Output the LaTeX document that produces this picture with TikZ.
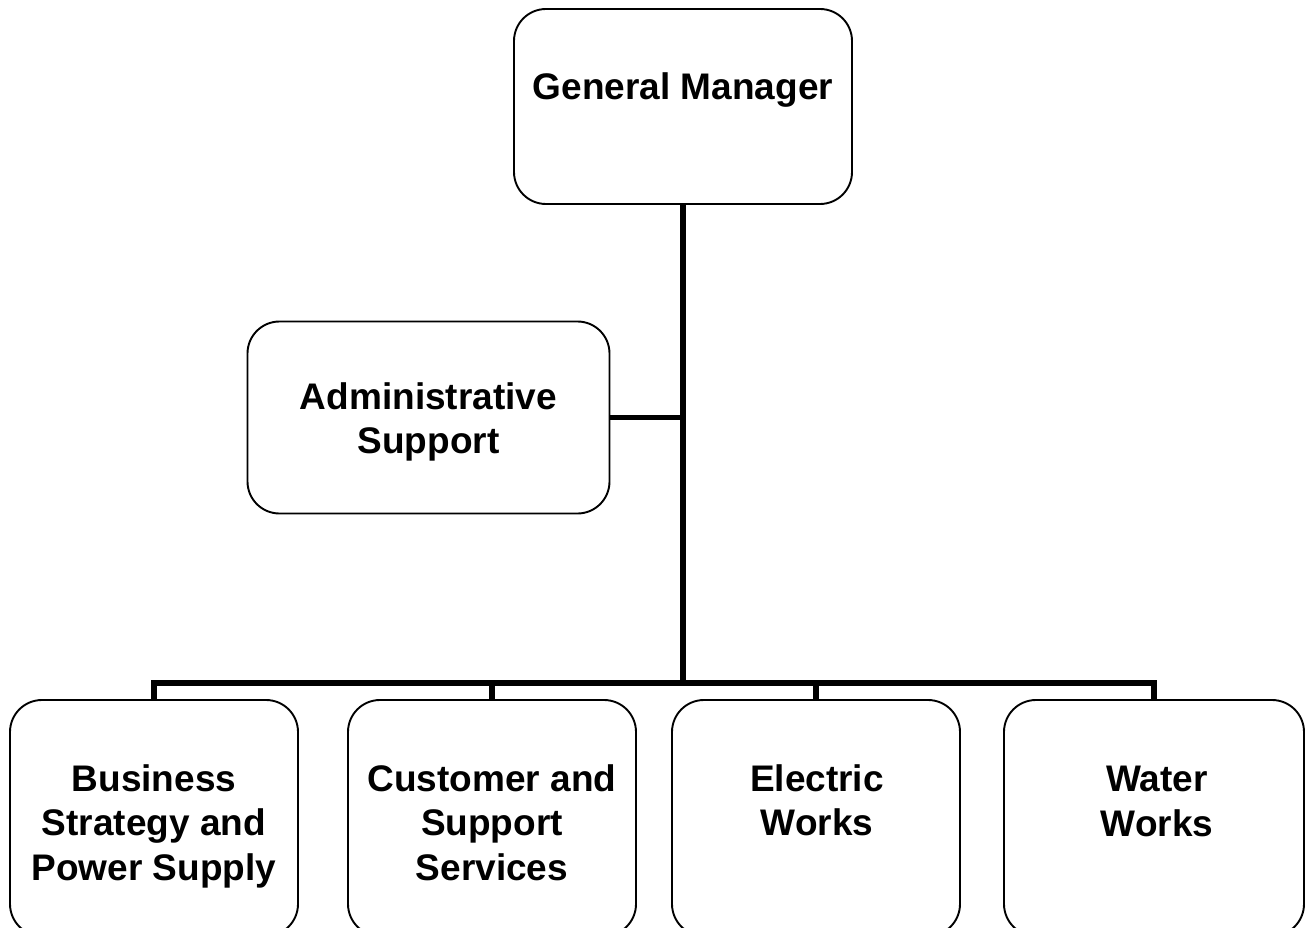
\documentclass[tikz,border=0pt]{standalone}
\usepackage{fontspec}
\setmainfont{Liberation Sans}
\begin{document}
\begin{tikzpicture}[x=1pt,y=-1pt,
  box/.style={draw=black,line width=1.9pt,rounded corners=32pt,fill=white,inner sep=0pt},
  txt/.style={inner sep=0pt,align=center,font=\fontsize{37}{44.5}\selectfont\bfseries,anchor=north,
    execute at begin node={\rule{0pt}{28pt}}},
  conn/.style={line width=5.2pt}]
\useasboundingbox (0,0) rectangle (1310,928);
\clip (0,0) rectangle (1310,928);
\fill[white] (0,0) rectangle (1310,928);
% boxes
\node[box,minimum width=338pt,minimum height=195pt] (gm) at (683,106.5) {};
\node[box,minimum width=362pt,minimum height=192pt] (adm) at (428.5,417.5) {};
\node[box,minimum width=288pt,minimum height=236pt] (b1) at (154,818) {};
\node[box,minimum width=288pt,minimum height=236pt] (b2) at (492,818) {};
\node[box,minimum width=288pt,minimum height=236pt] (b3) at (816,818) {};
\node[box,minimum width=300pt,minimum height=236pt] (b4) at (1154,818) {};
% texts
\node[txt] (gmt) at (683,71) {General Manager};
\node[txt] (admt) at (428.5,382) {Administrative\\Support};
\node[txt] (b1t) at (154,764) {Business\\Strategy and\\Power Supply};
\node[txt] (b2t) at (492,764) {Customer and\\Support\\Services};
\node[txt] (b3t) at (817,764) {Electric\\Works};
\node[txt] (b4t) at (1157,766) {Water\\Works};
% connectors
\coordinate (bus) at (683,683);
\draw[conn] (gm.south) -- (bus);
\draw[conn] (adm.east) -- (adm.east -| gm.south);
\draw[conn] (b1.north) |- (bus) -| (b4.north);
\draw[conn] (b2.north) -- (b2.north |- bus);
\draw[conn] (b3.north) -- (b3.north |- bus);
\end{tikzpicture}
\end{document}
